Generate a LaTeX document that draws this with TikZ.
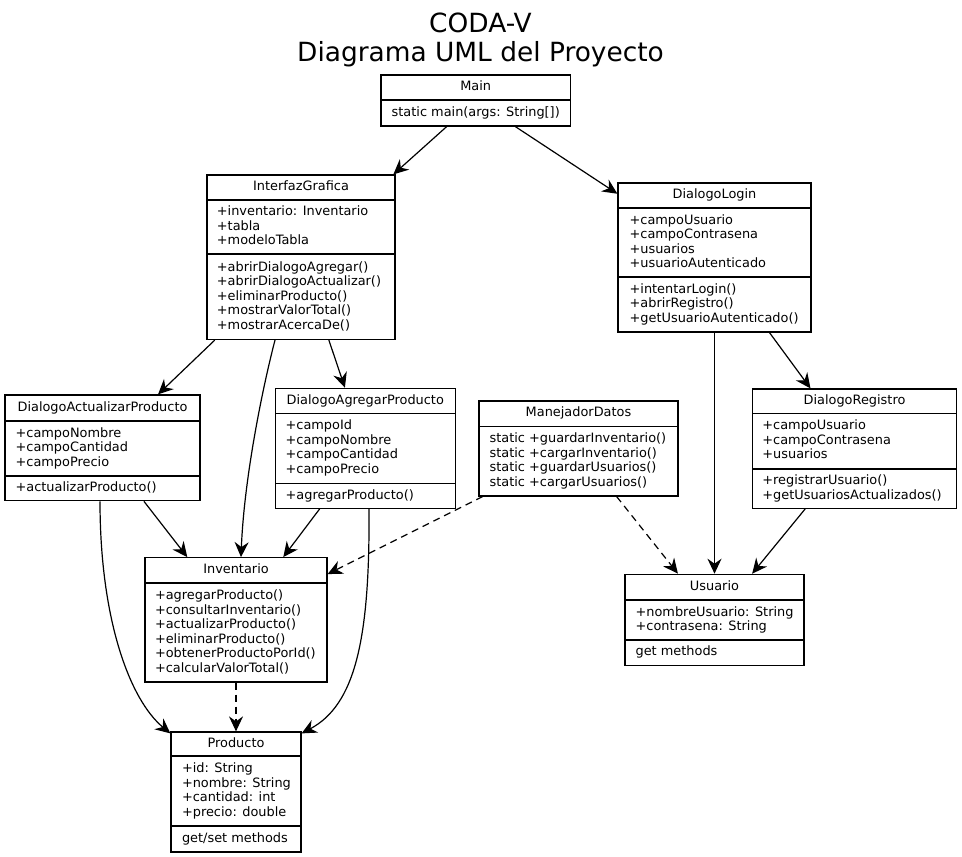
\documentclass[tikz,border=0pt]{standalone}
\usepackage{fontspec}
\setmainfont{DejaVu Sans}
\usetikzlibrary{arrows.meta,fit}
\newcommand\sv{\rule[-3.2pt]{0pt}{12.9pt}}
\newcommand\tv{\rule[-6.3pt]{0pt}{26.3pt}}
\tikzset{
  cls/.style={draw, line width=1.2pt, inner sep=0pt},
  hd/.style={inner sep=0pt, font=\fontsize{12.9}{14.5}\selectfont},
  bd/.style={inner sep=0pt, anchor=west, align=left, font=\fontsize{12.9}{14.5}\selectfont},
  dv/.style={line width=1.2pt},
  dep/.style={-{Stealth[length=15pt,width=14pt,inset=5pt]}, line width=1.2pt},
  dsh/.style={dep, dash pattern=on 7pt off 5pt},
}
\begin{document}
\begin{tikzpicture}[x=1pt,y=-1pt]
\useasboundingbox (0,0) rectangle (962,857);
% title
\node[inner sep=0pt, align=center, font=\fontsize{26.4}{28.7}\selectfont] (title) at (480.5,39.8) {\tv CODA-V\\\tv Diagrama UML del Proyecto};

% Main
\node[cls, fit={(381,75) (570.5,126)}] (main) {};
\draw[dv] (381,100) -- (570.5,100);
\node[hd] (main-h) at (475.75,87.5) {\sv Main};
\node[bd] (main-m) at (391.5,113) {\sv static main(args: String[])};

% InterfazGrafica
\node[cls, fit={(207,175) (395,339.5)}] (ig) {};
\draw[dv] (207,200) -- (395,200);
\draw[dv] (207,254) -- (395,254);
\node[hd] (ig-h) at (301,187.5) {\sv InterfazGrafica};
\node[bd] (ig-a) at (216.7,227) {\sv +inventario: Inventario\\+tabla\\\sv +modeloTabla};
\node[bd] (ig-m) at (216.7,296.75) {\sv +abrirDialogoAgregar()\\+abrirDialogoActualizar()\\+eliminarProducto()\\+mostrarValorTotal()\\\sv +mostrarAcercaDe()};

% DialogoLogin
\node[cls, fit={(618,183) (811,332)}] (dl) {};
\draw[dv] (618,208) -- (811,208);
\draw[dv] (618,277) -- (811,277);
\node[hd] (dl-h) at (714.5,195.5) {\sv DialogoLogin};
\node[bd] (dl-a) at (629.4,242.5) {\sv +campoUsuario\\+campoContrasena\\+usuarios\\\sv +usuarioAutenticado};
\node[bd] (dl-m) at (629.4,304.5) {\sv +intentarLogin()\\+abrirRegistro()\\\sv +getUsuarioAutenticado()};

% DialogoActualizarProducto
\node[cls, fit={(5,395) (200,500.7)}] (dap) {};
\draw[dv] (5,421) -- (200,421);
\draw[dv] (5,476) -- (200,476);
\node[hd] (dap-h) at (102.5,408) {\sv DialogoActualizarProducto};
\node[bd] (dap-a) at (15.4,448.5) {\sv +campoNombre\\+campoCantidad\\\sv +campoPrecio};
\node[bd] (dap-m) at (15.4,488.35) {\sv +actualizarProducto()};

% DialogoAgregarProducto
\node[cls, fit={(275.3,388.3) (455.3,508.3)}] (dagp) {};
\draw[dv] (275.3,413.3) -- (455.3,413.3);
\draw[dv] (275.3,483.3) -- (455.3,483.3);
\node[hd] (dagp-h) at (365.3,400.8) {\sv DialogoAgregarProducto};
\node[bd] (dagp-a) at (285.4,448.3) {\sv +campoId\\+campoNombre\\+campoCantidad\\\sv +campoPrecio};
\node[bd] (dagp-m) at (285.4,495.8) {\sv +agregarProducto()};

% ManejadorDatos
\node[cls, fit={(479,401) (678,496)}] (md) {};
\draw[dv] (479,426.3) -- (678,426.3);
\node[hd] (md-h) at (578.5,413.65) {\sv ManejadorDatos};
\node[bd] (md-m) at (489.4,461.15) {\sv static +guardarInventario()\\static +cargarInventario()\\static +guardarUsuarios()\\\sv static +cargarUsuarios()};

% DialogoRegistro
\node[cls, fit={(752.3,389) (956.7,508.3)}] (dr) {};
\draw[dv] (752.3,413.3) -- (956.7,413.3);
\draw[dv] (752.3,469) -- (956.7,469);
\node[hd] (dr-h) at (854.5,401.15) {\sv DialogoRegistro};
\node[bd] (dr-a) at (762.2,441.15) {\sv +campoUsuario\\+campoContrasena\\\sv +usuarios};
\node[bd] (dr-m) at (762.2,488.65) {\sv +registrarUsuario()\\\sv +getUsuariosActualizados()};

% Inventario
\node[cls, fit={(145,557.7) (327,682)}] (inv) {};
\draw[dv] (145,583) -- (327,583);
\node[hd] (inv-h) at (236,570.35) {\sv Inventario};
\node[bd] (inv-m) at (154.8,632.5) {\sv +agregarProducto()\\+consultarInventario()\\+actualizarProducto()\\+eliminarProducto()\\+obtenerProductoPorId()\\\sv +calcularValorTotal()};

% Usuario
\node[cls, fit={(625,574.3) (804,665.3)}] (us) {};
\draw[dv] (625,600) -- (804,600);
\draw[dv] (625,640) -- (804,640);
\node[hd] (us-h) at (714.5,587.15) {\sv Usuario};
\node[bd] (us-a) at (635.4,620) {\sv +nombreUsuario: String\\\sv +contrasena: String};
\node[bd] (us-m) at (635.4,652.65) {\sv get methods};

% Producto
\node[cls, fit={(171,732) (301,852)}] (prod) {};
\draw[dv] (171,756) -- (301,756);
\draw[dv] (171,826) -- (301,826);
\node[hd] (prod-h) at (236,744) {\sv Producto};
\node[bd] (prod-a) at (181.8,791) {\sv +id: String\\+nombre: String\\+cantidad: int\\\sv +precio: double};
\node[bd] (prod-m) at (181.8,839) {\sv get/set methods};

% connectors
\draw[dep] (main) -- (ig);
\draw[dep] (main) -- (dl);
\draw[dep] (ig) -- (dap);
\draw[dep] (ig) -- (dagp);
\draw[dep] ([xshift=-26pt]ig.south) .. controls (262,390) and (244,480) .. ([xshift=5pt]inv.north);
\draw[dep] (dl) -- (us);
\draw[dep] (dl) -- (dr);
\draw[dep] (dap) -- (inv);
\draw[dep] ([xshift=-2.5pt]dap.south) .. controls (100,620) and (130,700) .. ([yshift=-2pt]prod.north west);
\draw[dep] (dagp) -- (inv);
\draw[dep] ([xshift=3.7pt]dagp.south) .. controls (370,640) and (355,705) .. ([yshift=-2pt]prod.north east);
\draw[dsh] (md) -- (inv);
\draw[dsh] (md) -- (us);
\draw[dep] (dr) -- (us);
\draw[dsh] (inv) -- (prod);
\end{tikzpicture}
\end{document}
